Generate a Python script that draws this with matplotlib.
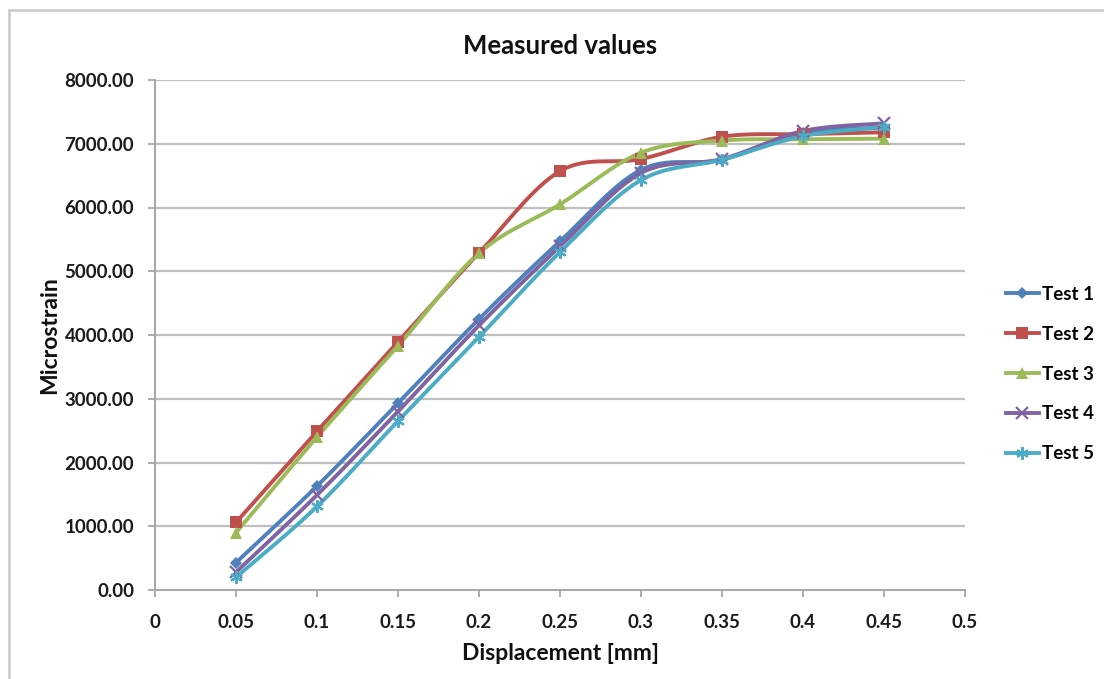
import numpy as np
import matplotlib
matplotlib.use("Agg")
import matplotlib.pyplot as plt
from matplotlib.patches import Rectangle

plt.rcParams['font.family'] = ['Lato', 'DejaVu Sans']

displacement = [0.05, 0.10, 0.15, 0.20, 0.25, 0.30, 0.35, 0.40, 0.45]

test1 = [430, 1630, 2930, 4250, 5470, 6590, 6750, 7170, 7250]
test2 = [1060, 2490, 3890, 5285, 6570, 6760, 7110, 7150, 7180]
test3 = [900, 2400, 3830, 5285, 6050, 6860, 7050, 7070, 7080]
test4 = [280, 1490, 2800, 4150, 5390, 6540, 6760, 7200, 7320]
test5 = [200, 1310, 2650, 3970, 5300, 6430, 6750, 7120, 7260]

series_names = ["Test 1", "Test 2", "Test 3", "Test 4", "Test 5"]
series_values = [test1, test2, test3, test4, test5]
colors = ["#4F81BD", "#C0504D", "#9BBB59", "#8064A2", "#4BACC6"]
markers = ["D", "s", "^", "x", (6, 2, 0)]
marker_sizes = [6, 8, 8, 8, 9]

y_ticks = [0, 1000, 2000, 3000, 4000, 5000, 6000, 7000, 8000]
x_ticks = [0, 0.05, 0.1, 0.15, 0.2, 0.25, 0.3, 0.35, 0.4, 0.45, 0.5]
x_tick_labels = ["0", "0.05", "0.1", "0.15", "0.2", "0.25", "0.3", "0.35", "0.4", "0.45", "0.5"]


def smooth(xs, ys, n=30):
    """Cubic Bezier smoothing through every point (Catmull-Rom style)."""
    xs = np.asarray(xs, float)
    ys = np.asarray(ys, float)
    px = np.concatenate([[xs[0]], xs, [xs[-1]]])
    py = np.concatenate([[ys[0]], ys, [ys[-1]]])
    out_x, out_y = [], []
    t = np.linspace(0, 1, n)
    for i in range(1, len(px) - 2):
        p0 = np.array([px[i], py[i]])
        p3 = np.array([px[i + 1], py[i + 1]])
        c1 = p0 + (np.array([px[i + 1], py[i + 1]]) - np.array([px[i - 1], py[i - 1]])) / 6
        c2 = p3 - (np.array([px[i + 2], py[i + 2]]) - np.array([px[i], py[i]])) / 6
        b = ((1 - t) ** 3)[:, None] * p0 + (3 * (1 - t) ** 2 * t)[:, None] * c1 \
            + (3 * (1 - t) * t ** 2)[:, None] * c2 + (t ** 3)[:, None] * p3
        out_x.extend(b[:, 0])
        out_y.extend(b[:, 1])
    return np.array(out_x), np.array(out_y)


fig = plt.figure(figsize=(11.04, 6.79), dpi=100)
ax = fig.add_axes([155 / 1104, 1 - 590 / 679, 810 / 1104, 510 / 679])

# Chart-area frame
fig.patches.append(Rectangle((9 / 1104, -0.05), 1.2, 1 - 10 / 679 + 0.05,
                             transform=fig.transFigure, fill=False,
                             edgecolor="#c8c8c8", linewidth=1.8))

grid_color = "#bfbfbf"
for yv in y_ticks[1:]:
    ax.axhline(yv, color=grid_color, linewidth=1.6, zorder=0)

handles = []
for name, vals, c, m, ms in zip(series_names, series_values, colors, markers, marker_sizes):
    sx, sy = smooth(displacement, vals)
    ax.plot(sx, sy, color=c, linewidth=2.8, solid_capstyle="round", zorder=2)
    mew = 1.6 if m in ("x", (6, 2, 0)) else 0
    ax.plot(displacement, vals, linestyle="none", marker=m, markersize=ms,
            color=c, markeredgecolor=c, markeredgewidth=mew, zorder=3)
    h, = ax.plot([], [], color=c, linewidth=2.8, marker=m, markersize=ms,
                 markeredgecolor=c, markeredgewidth=mew)
    handles.append(h)

ax.set_xlim(0, 0.5)
ax.set_ylim(0, 8000)
ax.set_xticks(x_ticks)
ax.set_xticklabels(x_tick_labels)
ax.set_yticks(y_ticks)
ax.set_yticklabels([f"{v:.2f}" for v in y_ticks])

for side in ("top", "right"):
    ax.spines[side].set_visible(False)
for side in ("left", "bottom"):
    ax.spines[side].set_color("#a6a6a6")
    ax.spines[side].set_linewidth(1.4)

ax.tick_params(axis="both", direction="out", length=5, width=1.3, color="#a6a6a6",
               labelsize=13.5, labelcolor="#1a1a1a")
ax.tick_params(axis="x", pad=12)
ax.tick_params(axis="y", pad=10)
for lbl in ax.get_xticklabels() + ax.get_yticklabels():
    lbl.set_fontweight("bold")

ax.set_xlabel("Displacement [mm]", fontsize=16.5, fontweight="bold", labelpad=9, color="#111111")
ax.set_ylabel("Microstrain", fontsize=16.5, fontweight="bold", labelpad=3, color="#111111")
ax.set_title("Measured values", fontsize=18.5, fontweight="bold", pad=19, color="#111111")

leg = fig.legend(handles, series_names, loc="center left",
                 bbox_to_anchor=(998 / 1104, 1 - 374 / 679), frameon=False,
                 prop={"weight": "bold", "size": 13.5}, handlelength=1.8,
                 handletextpad=0.15, labelspacing=1.22, borderaxespad=0)

fig.savefig("out.png", dpi=100, facecolor="white")
